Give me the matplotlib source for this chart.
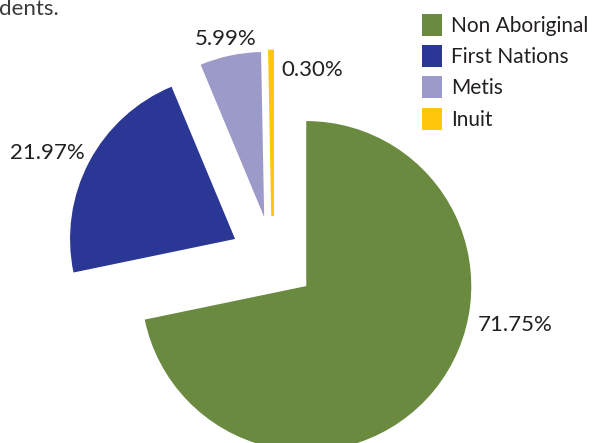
import matplotlib
matplotlib.use("Agg")
import matplotlib.pyplot as plt
from matplotlib.patches import Patch

categories = ["Non Aboriginal", "First Nations", "Metis", "Inuit"]
values = [71.75, 21.97, 5.99, 0.30]
pct_labels = ["71.75%", "21.97%", "5.99%", "0.30%"]
colors = ["#6a8a40", "#2b3794", "#9c9ac9", "#ffc60b"]

# layout (style) parameters
label_pos = [(1.467, -0.40), (-1.37, 0.642), (-0.285, 1.336), (0.236, 1.148)]
R_PX = 165.0
CX, CY = 273.0, 259.0  # pie center in pixels (from top-left)
W, H = 592, 443

plt.rcParams['font.family'] = ['Lato', 'DejaVu Sans']
txt_color = "#231f20"
FS = 16
LFS = 15

fig = plt.figure(figsize=(W / 100, H / 100), dpi=100)
ax = fig.add_axes([0, 0, 1, 1])
wedges, _ = ax.pie(values, explode=[0.26] * 4, colors=colors, startangle=90,
                   counterclock=False, radius=1,
                   wedgeprops=dict(linewidth=0))
wedges[3].set_edgecolor(colors[3])
wedges[3].set_linewidth(2.0)
ax.set_xlim(-CX / R_PX, (W - CX) / R_PX)
ax.set_ylim(-(H - CY) / R_PX, CY / R_PX)
ax.set_aspect('auto')
ax.axis('off')

for (x, y), t in zip(label_pos, pct_labels):
    ax.text(x, y, t, ha='center', va='center', fontsize=FS, color=txt_color)

handles = [Patch(facecolor=c, edgecolor='none') for c in colors]
leg = fig.legend(handles, categories, loc='upper right',
                 bbox_to_anchor=(1.012, 0.993), frameon=False, fontsize=LFS,
                 handlelength=1.0, handleheight=1.25, handletextpad=0.43,
                 labelspacing=0.45, borderaxespad=0.2, borderpad=0.3,
                 labelcolor=txt_color)

fig.text(-0.002, 1 - 15 / H, "dents.", ha='left', va='baseline',
         fontsize=FS, color="#3a3a3a")

fig.savefig("out.png", dpi=100)
